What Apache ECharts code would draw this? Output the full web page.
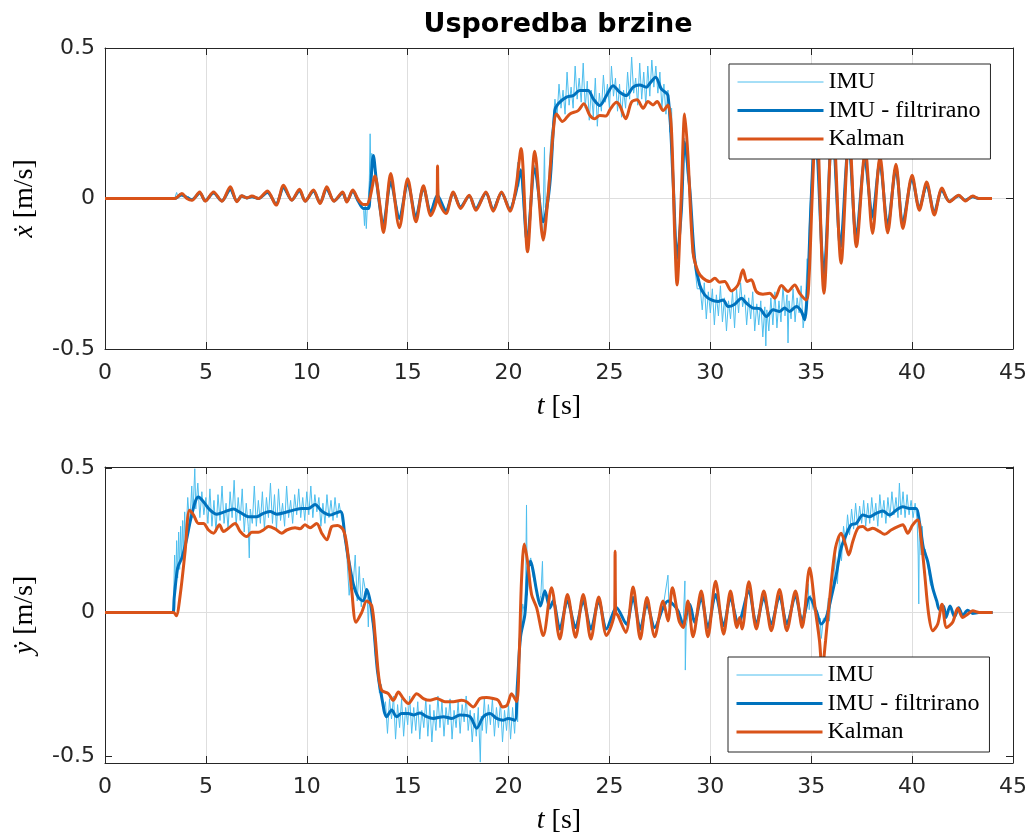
<!DOCTYPE html>
<html><head><meta charset="utf-8">
<script src="https://cdn.jsdelivr.net/npm/echarts@6/dist/echarts.min.js"></script>
<style>html,body{margin:0;padding:0;background:#fff}#c{width:1030px;height:836px}</style>
</head><body><div id="c"></div>
<script>
// ---------- DATA (time [s], value [m/s]) ----------
const legendNames = ['IMU', 'IMU - filtrirano', 'Kalman'];
const xTickValues = [0, 5, 10, 15, 20, 25, 30, 35, 40, 45];
const yTickValues = [-0.5, 0, 0.5];

// top plot: x-velocity
const xKalman = [[0,0],[3.45,0],[3.81,0.017],[4.06,0.0],[4.31,-0.006],[4.69,0.022],[4.97,-0.009],[5.38,0.022],[5.79,-0.009],[6.21,0.039],[6.54,-0.011],[6.78,0.009],[7.03,0.002],[7.28,0.008],[7.61,0.0],[8.05,0.025],[8.48,-0.022],[8.85,0.044],[9.26,-0.006],[9.64,0.031],[9.92,-0.009],[10.33,0.028],[10.66,-0.017],[10.99,0.039],[11.35,-0.009],[11.78,0.022],[11.98,-0.012],[12.28,0.028],[12.56,-0.005],[12.81,-0.02],[12.97,-0.02],[13.14,0.005],[13.38,0.075],[13.6,-0.011],[13.8,-0.113],[14.16,0.083],[14.59,-0.097],[15.0,0.066],[15.41,-0.077],[15.78,0.042],[16.14,-0.057],[16.46,0.006],[16.48,0.108],[16.52,0.0],[16.9,-0.05],[17.26,0.022],[17.62,-0.033],[18.05,0.011],[18.38,-0.039],[18.88,0.022],[19.24,-0.042],[19.65,0.022],[20.07,-0.042],[20.36,0.033],[20.62,0.166],[20.94,-0.177],[21.3,0.157],[21.72,-0.138],[21.96,0.01],[22.21,0.22],[22.38,0.281],[22.67,0.256],[23.04,0.281],[23.45,0.292],[23.73,0.315],[24.03,0.276],[24.27,0.265],[24.52,0.276],[24.82,0.274],[25.05,0.298],[25.35,0.32],[25.51,0.309],[25.81,0.265],[26.09,0.32],[26.37,0.328],[26.67,0.3],[26.91,0.322],[27.16,0.311],[27.36,0.322],[27.66,0.292],[27.9,0.311],[28.07,0.232],[28.23,-0.11],[28.35,-0.287],[28.56,0.01],[28.73,0.281],[28.89,0.143],[29.14,-0.177],[29.39,-0.243],[29.64,-0.265],[29.97,-0.276],[30.22,-0.265],[30.47,-0.278],[30.71,-0.276],[31.04,-0.307],[31.37,-0.287],[31.62,-0.237],[31.82,-0.276],[32.03,-0.27],[32.28,-0.309],[32.61,-0.318],[32.94,-0.315],[33.19,-0.331],[33.52,-0.289],[33.85,-0.309],[34.18,-0.287],[34.43,-0.315],[34.76,-0.337],[34.89,-0.265],[35.05,0.01],[35.25,0.3],[35.63,-0.315],[36.07,0.28],[36.48,-0.215],[36.88,0.22],[37.24,-0.16],[37.68,0.16],[38.04,-0.116],[38.41,0.14],[38.79,-0.114],[39.2,0.114],[39.54,-0.1],[40.0,0.077],[40.36,-0.039],[40.72,0.055],[41.1,-0.055],[41.48,0.035],[41.85,-0.011],[42.31,0.011],[42.64,-0.008],[43.0,0.008],[43.3,0.0],[43.96,0.0]];

const xFiltered = [[0,0],[3.45,0],[3.8,0.012],[4.1,0.002],[4.3,-0.004],[4.7,0.018],[4.97,-0.007],[5.38,0.018],[5.79,-0.008],[6.21,0.03],[6.54,-0.009],[6.78,0.008],[7.03,0.002],[7.28,0.006],[7.61,0.0],[8.05,0.02],[8.48,-0.018],[8.85,0.036],[9.26,-0.005],[9.64,0.026],[9.92,-0.008],[10.33,0.024],[10.66,-0.014],[10.99,0.032],[11.35,-0.008],[11.78,0.018],[11.98,-0.01],[12.28,0.024],[12.56,-0.01],[12.81,-0.033],[13.05,-0.033],[13.14,0.02],[13.3,0.143],[13.45,0.06],[13.8,-0.083],[14.16,0.055],[14.59,-0.066],[15.0,0.05],[15.41,-0.06],[15.78,0.035],[16.14,-0.045],[16.47,0.01],[16.9,-0.04],[17.26,0.018],[17.62,-0.028],[18.05,0.008],[18.38,-0.033],[18.88,0.018],[19.24,-0.035],[19.65,0.018],[20.07,-0.035],[20.36,0.02],[20.6,0.094],[20.92,-0.143],[21.3,0.099],[21.72,-0.077],[22.04,0.044],[22.29,0.292],[22.46,0.315],[22.87,0.337],[23.2,0.342],[23.53,0.359],[23.94,0.359],[24.2,0.331],[24.52,0.309],[24.85,0.342],[25.18,0.375],[25.51,0.353],[25.84,0.342],[26.17,0.37],[26.5,0.377],[26.83,0.37],[27.03,0.385],[27.29,0.403],[27.57,0.364],[27.9,0.342],[28.15,0.066],[28.35,-0.199],[28.56,-0.044],[28.73,0.188],[28.98,0.033],[29.22,-0.199],[29.47,-0.287],[29.72,-0.32],[30.05,-0.337],[30.38,-0.342],[30.63,-0.337],[30.88,-0.359],[31.21,-0.351],[31.54,-0.331],[31.79,-0.348],[32.12,-0.364],[32.45,-0.366],[32.78,-0.392],[33.11,-0.37],[33.44,-0.375],[33.68,-0.364],[33.93,-0.375],[34.26,-0.359],[34.51,-0.375],[34.67,-0.403],[34.84,-0.265],[35.0,0.0],[35.2,0.23],[35.63,-0.254],[36.05,0.24],[36.45,-0.16],[36.86,0.19],[37.23,-0.13],[37.66,0.13],[38.03,-0.06],[38.4,0.12],[38.79,-0.09],[39.2,0.1],[39.54,-0.08],[40.0,0.065],[40.36,-0.03],[40.72,0.045],[41.1,-0.045],[41.48,0.028],[41.85,-0.009],[42.31,0.009],[42.64,-0.006],[43.0,0.006],[43.3,0.0],[43.96,0.0]];

const xImu = [[0,0],[3.45,0],[3.55,0.02],[3.62,0.005],[3.7,0.018],[3.8,0.008],[3.9,0.015],[4.0,0.0],[4.15,0.006],[4.3,-0.008],[4.5,0.01],[4.7,0.02],[4.9,-0.01],[5.1,0.004],[5.38,0.02],[5.6,0.0],[5.79,-0.01],[6.0,0.012],[6.21,0.03],[6.4,0.0],[6.54,-0.012],[6.7,0.012],[6.85,0.002],[7.03,0.006],[7.28,0.004],[7.61,-0.003],[7.8,0.01],[8.05,0.022],[8.3,0.0],[8.48,-0.02],[8.7,0.02],[8.85,0.036],[9.05,0.01],[9.26,-0.008],[9.45,0.015],[9.64,0.028],[9.92,-0.01],[10.15,0.01],[10.33,0.026],[10.5,0.0],[10.66,-0.016],[10.85,0.018],[10.99,0.03],[11.2,0.0],[11.35,-0.01],[11.6,0.01],[11.78,0.02],[11.98,-0.012],[12.15,0.01],[12.28,0.026],[12.45,0.0],[12.56,-0.01],[12.7,-0.025],[12.82,-0.04],[12.86,-0.09],[12.9,-0.02],[12.95,-0.1],[13.0,-0.03],[13.05,0.0],[13.1,0.06],[13.14,0.215],[13.18,0.08],[13.22,0.15],[13.3,0.12],[13.4,0.09],[13.5,0.03],[13.62,-0.04],[13.8,-0.09],[14.0,-0.01],[14.16,0.06],[14.38,0.0],[14.59,-0.07],[14.8,-0.01],[15.0,0.055],[15.2,0.0],[15.41,-0.065],[15.6,-0.01],[15.78,0.04],[15.95,0.0],[16.14,-0.05],[16.3,-0.01],[16.47,0.02],[16.7,-0.02],[16.9,-0.045],[17.1,-0.01],[17.26,0.02],[17.45,0.0],[17.62,-0.03],[17.85,-0.01],[18.05,0.01],[18.2,-0.01],[18.38,-0.035],[18.6,0.0],[18.88,0.02],[19.05,-0.01],[19.24,-0.038],[19.45,0.0],[19.65,0.02],[19.85,-0.01],[20.07,-0.038],[20.25,0.0],[20.36,0.03],[20.45,0.12],[20.5,0.04],[20.6,0.1],[20.75,-0.05],[20.92,-0.15],[21.05,-0.05],[21.15,0.05],[21.3,0.11],[21.45,0.02],[21.6,-0.06],[21.7,-0.12],[21.78,0.17],[21.82,-0.03],[21.9,0.0],[22.0,0.08],[22.1,0.2],[22.2,0.25],[22.3,0.33],[22.4,0.27],[22.5,0.38],[22.6,0.30],[22.7,0.36],[22.8,0.28],[22.9,0.42],[23.0,0.31],[23.1,0.37],[23.2,0.30],[23.3,0.44],[23.4,0.33],[23.5,0.40],[23.6,0.32],[23.7,0.45],[23.8,0.30],[23.9,0.39],[24.0,0.26],[24.1,0.36],[24.2,0.27],[24.3,0.40],[24.4,0.24],[24.5,0.35],[24.6,0.29],[24.7,0.41],[24.8,0.32],[24.9,0.38],[25.0,0.30],[25.1,0.44],[25.2,0.34],[25.3,0.40],[25.4,0.29],[25.5,0.38],[25.6,0.27],[25.7,0.36],[25.8,0.30],[25.9,0.42],[26.0,0.33],[26.1,0.47],[26.2,0.35],[26.3,0.40],[26.4,0.31],[26.5,0.45],[26.6,0.33],[26.7,0.42],[26.8,0.31],[26.9,0.44],[27.0,0.34],[27.1,0.46],[27.2,0.37],[27.3,0.44],[27.4,0.35],[27.5,0.42],[27.6,0.30],[27.7,0.38],[27.8,0.28],[27.9,0.36],[28.0,0.22],[28.08,0.3],[28.15,0.05],[28.25,-0.1],[28.35,-0.22],[28.45,-0.12],[28.56,-0.04],[28.65,0.12],[28.73,0.2],[28.85,0.08],[28.98,0.02],[29.1,-0.18],[29.22,-0.22],[29.35,-0.3],[29.5,-0.3],[29.6,-0.37],[29.7,-0.28],[29.8,-0.40],[29.9,-0.31],[30.0,-0.38],[30.1,-0.30],[30.2,-0.42],[30.3,-0.32],[30.4,-0.39],[30.5,-0.29],[30.6,-0.41],[30.7,-0.33],[30.8,-0.44],[30.9,-0.34],[31.0,-0.40],[31.1,-0.31],[31.2,-0.43],[31.3,-0.30],[31.4,-0.38],[31.5,-0.28],[31.6,-0.36],[31.7,-0.32],[31.8,-0.42],[31.9,-0.33],[32.0,-0.40],[32.1,-0.31],[32.2,-0.44],[32.3,-0.35],[32.4,-0.42],[32.5,-0.34],[32.6,-0.46],[32.7,-0.36],[32.75,-0.49],[32.8,-0.37],[32.9,-0.44],[33.0,-0.33],[33.1,-0.42],[33.2,-0.31],[33.3,-0.43],[33.4,-0.34],[33.5,-0.41],[33.6,-0.29],[33.7,-0.39],[33.8,-0.32],[33.85,-0.48],[33.9,-0.34],[34.0,-0.40],[34.1,-0.30],[34.2,-0.41],[34.3,-0.33],[34.4,-0.38],[34.5,-0.29],[34.6,-0.43],[34.7,-0.37],[34.8,-0.2],[34.85,-0.33],[34.9,-0.1],[35.0,0.05],[35.2,0.25],[35.4,0.0],[35.63,-0.26],[35.85,0.0],[36.05,0.25],[36.25,0.0],[36.45,-0.17],[36.65,0.0],[36.86,0.2],[37.05,0.0],[37.23,-0.135],[37.45,0.0],[37.66,0.14],[37.85,0.0],[38.03,-0.07],[38.2,0.0],[38.4,0.125],[38.6,0.0],[38.79,-0.095],[39.0,0.0],[39.2,0.105],[39.35,0.0],[39.54,-0.085],[39.75,0.0],[40.0,0.068],[40.2,0.0],[40.36,-0.032],[40.55,0.0],[40.72,0.047],[40.9,0.0],[41.1,-0.047],[41.3,0.0],[41.48,0.03],[41.65,0.0],[41.85,-0.01],[42.31,0.01],[42.64,-0.006],[43.0,0.006],[43.3,0.0],[43.96,0.0]];

// bottom plot: y-velocity
const yKalman = [[0,0],[3.4,0],[3.53,-0.011],[3.73,0.063],[3.97,0.213],[4.19,0.356],[4.39,0.339],[4.63,0.31],[4.88,0.31],[5.13,0.287],[5.38,0.276],[5.67,0.305],[5.87,0.282],[6.12,0.293],[6.45,0.31],[6.7,0.282],[7.03,0.264],[7.27,0.279],[7.6,0.279],[7.85,0.287],[8.1,0.299],[8.43,0.291],[8.76,0.276],[9.01,0.287],[9.42,0.295],[9.67,0.291],[9.91,0.305],[10.16,0.295],[10.49,0.31],[10.74,0.276],[10.99,0.253],[11.24,0.299],[11.52,0.303],[11.81,0.287],[11.98,0.236],[12.23,0.075],[12.44,-0.034],[12.72,0.0],[12.97,0.04],[13.22,0.023],[13.38,-0.075],[13.55,-0.213],[13.71,-0.27],[14.04,-0.282],[14.29,-0.305],[14.54,-0.276],[14.78,-0.299],[15.03,-0.316],[15.45,-0.282],[15.78,-0.299],[16.11,-0.305],[16.44,-0.299],[16.85,-0.31],[17.26,-0.31],[17.67,-0.305],[17.92,-0.31],[18.25,-0.328],[18.58,-0.299],[18.91,-0.295],[19.24,-0.299],[19.49,-0.305],[19.7,-0.328],[19.93,-0.322],[20.15,-0.282],[20.4,-0.31],[20.53,-0.144],[20.64,0.109],[20.78,0.238],[20.94,0.178],[21.14,0.063],[21.39,0.017],[21.72,-0.08],[22.13,0.086],[22.54,-0.092],[22.92,0.063],[23.32,-0.086],[23.7,0.063],[24.08,-0.092],[24.47,0.054],[24.85,-0.08],[25.26,0.006],[25.28,0.213],[25.31,0.0],[25.43,-0.011],[25.81,-0.069],[26.17,0.089],[26.53,-0.092],[26.86,0.052],[27.24,-0.084],[27.66,0.04],[27.9,-0.029],[28.12,0.086],[28.45,-0.029],[28.65,-0.052],[28.89,0.04],[29.14,-0.084],[29.55,0.075],[29.88,-0.084],[30.26,0.109],[30.66,-0.075],[31.0,0.075],[31.32,-0.052],[31.45,-0.017],[31.57,-0.057],[31.91,0.107],[32.28,-0.057],[32.65,0.075],[33.02,-0.063],[33.43,0.08],[33.79,-0.063],[34.22,0.075],[34.55,-0.052],[34.92,0.155],[35.21,0.006],[35.41,-0.098],[35.54,-0.2],[35.71,-0.098],[35.9,0.04],[36.2,0.224],[36.48,0.276],[36.7,0.236],[36.86,0.2],[37.06,0.247],[37.31,0.293],[37.56,0.299],[37.8,0.287],[38.05,0.293],[38.38,0.282],[38.63,0.272],[38.96,0.287],[39.29,0.299],[39.54,0.305],[39.78,0.276],[40.03,0.305],[40.28,0.322],[40.44,0.259],[40.61,0.144],[40.82,-0.006],[41.02,-0.063],[41.27,-0.04],[41.48,0.029],[41.71,-0.052],[42.01,-0.034],[42.26,0.015],[42.51,-0.017],[42.75,-0.006],[43.0,0.006],[43.33,0.0],[43.99,0.0]];

const yFiltered = [[0,0],[3.36,0],[3.43,0.052],[3.6,0.155],[3.81,0.19],[4.02,0.247],[4.22,0.316],[4.47,0.385],[4.63,0.402],[4.88,0.385],[5.21,0.356],[5.54,0.342],[5.95,0.351],[6.37,0.36],[6.7,0.348],[7.11,0.333],[7.52,0.333],[7.85,0.345],[8.18,0.351],[8.51,0.342],[8.92,0.348],[9.34,0.356],[9.75,0.362],[10.08,0.362],[10.41,0.376],[10.74,0.353],[11.15,0.339],[11.4,0.345],[11.68,0.351],[11.9,0.259],[12.06,0.19],[12.31,0.098],[12.56,0.052],[12.8,0.04],[12.97,0.08],[13.17,0.029],[13.33,-0.063],[13.5,-0.201],[13.71,-0.293],[13.96,-0.362],[14.21,-0.339],[14.45,-0.362],[14.7,-0.351],[15.03,-0.351],[15.3,-0.356],[15.61,-0.349],[15.94,-0.362],[16.27,-0.368],[16.77,-0.362],[17.18,-0.368],[17.59,-0.356],[18.09,-0.362],[18.42,-0.402],[18.75,-0.362],[19.08,-0.351],[19.41,-0.368],[19.74,-0.374],[19.98,-0.368],[20.31,-0.374],[20.43,-0.259],[20.59,-0.086],[20.81,-0.006],[20.97,0.155],[21.09,0.178],[21.22,0.144],[21.39,0.075],[21.58,0.023],[21.8,0.075],[22.05,0.017],[22.21,0.04],[22.54,-0.057],[22.92,0.04],[23.32,-0.052],[23.7,0.04],[24.08,-0.057],[24.47,0.04],[24.85,-0.057],[25.35,0.017],[25.84,-0.04],[26.17,0.052],[26.53,-0.057],[26.86,0.029],[27.24,-0.052],[27.66,0.017],[27.9,0.04],[28.15,0.029],[28.4,0.006],[28.65,-0.04],[28.98,0.029],[29.22,-0.034],[29.55,0.052],[29.88,-0.052],[30.26,0.063],[30.66,-0.046],[31.0,0.052],[31.37,-0.034],[31.5,-0.023],[31.91,0.075],[32.28,-0.04],[32.65,0.052],[33.02,-0.04],[33.43,0.057],[33.79,-0.04],[34.22,0.057],[34.55,-0.029],[34.92,0.052],[35.25,0.006],[35.49,-0.04],[35.74,-0.017],[35.99,0.052],[36.24,0.132],[36.48,0.224],[36.73,0.27],[36.98,0.305],[37.23,0.31],[37.56,0.339],[37.89,0.333],[38.22,0.345],[38.55,0.353],[38.88,0.339],[39.21,0.356],[39.54,0.368],[39.87,0.362],[40.2,0.362],[40.36,0.316],[40.56,0.224],[40.77,0.178],[41.02,0.086],[41.22,0.04],[41.35,0.011],[41.55,0.023],[41.68,-0.017],[41.88,0.023],[42.1,-0.015],[42.31,0.017],[42.51,-0.011],[42.75,0.008],[43.0,-0.003],[43.3,0.0],[43.99,0.0]];

const yImu = [[0,0],[3.36,0],[3.4,0.05],[3.45,0.2],[3.5,0.08],[3.55,0.25],[3.6,0.12],[3.65,0.28],[3.7,0.15],[3.75,0.3],[3.8,0.18],[3.85,0.32],[3.9,0.2],[3.95,0.35],[4.0,0.24],[4.1,0.4],[4.2,0.3],[4.3,0.44],[4.35,0.33],[4.45,0.5],[4.5,0.36],[4.6,0.45],[4.7,0.33],[4.8,0.42],[4.9,0.34],[5.0,0.40],[5.1,0.31],[5.2,0.43],[5.3,0.30],[5.4,0.39],[5.5,0.28],[5.6,0.41],[5.7,0.32],[5.8,0.44],[5.9,0.31],[6.0,0.38],[6.1,0.29],[6.2,0.42],[6.3,0.33],[6.4,0.46],[6.5,0.30],[6.6,0.40],[6.7,0.32],[6.8,0.43],[6.9,0.28],[7.0,0.38],[7.1,0.30],[7.15,0.19],[7.2,0.36],[7.3,0.31],[7.4,0.44],[7.5,0.30],[7.6,0.39],[7.7,0.31],[7.8,0.42],[7.9,0.29],[8.0,0.40],[8.1,0.33],[8.2,0.45],[8.3,0.31],[8.4,0.41],[8.5,0.29],[8.6,0.43],[8.7,0.32],[8.8,0.38],[8.9,0.30],[9.0,0.44],[9.1,0.33],[9.2,0.39],[9.3,0.31],[9.4,0.41],[9.5,0.34],[9.6,0.43],[9.7,0.33],[9.8,0.40],[9.9,0.32],[10.0,0.42],[10.1,0.34],[10.2,0.44],[10.3,0.33],[10.4,0.41],[10.5,0.35],[10.6,0.40],[10.7,0.30],[10.8,0.38],[10.9,0.31],[11.0,0.41],[11.1,0.33],[11.2,0.39],[11.3,0.32],[11.4,0.40],[11.5,0.33],[11.6,0.38],[11.7,0.34],[11.8,0.30],[11.9,0.25],[12.0,0.18],[12.1,0.06],[12.2,0.14],[12.3,0.1],[12.4,0.2],[12.5,0.04],[12.6,0.16],[12.7,0.02],[12.8,0.12],[12.9,0.08],[13.0,0.05],[13.05,-0.05],[13.1,0.06],[13.2,-0.02],[13.3,-0.05],[13.4,-0.15],[13.5,-0.2],[13.6,-0.28],[13.7,-0.25],[13.8,-0.35],[13.9,-0.31],[14.0,-0.42],[14.1,-0.3],[14.2,-0.37],[14.3,-0.29],[14.4,-0.44],[14.5,-0.32],[14.6,-0.40],[14.7,-0.30],[14.8,-0.43],[14.9,-0.33],[15.0,-0.39],[15.1,-0.29],[15.2,-0.42],[15.3,-0.33],[15.4,-0.41],[15.5,-0.31],[15.6,-0.44],[15.7,-0.34],[15.8,-0.40],[15.9,-0.30],[16.0,-0.43],[16.1,-0.32],[16.2,-0.45],[16.3,-0.34],[16.4,-0.41],[16.5,-0.29],[16.6,-0.40],[16.7,-0.31],[16.8,-0.43],[16.9,-0.33],[17.0,-0.39],[17.1,-0.30],[17.2,-0.44],[17.3,-0.34],[17.4,-0.40],[17.5,-0.31],[17.6,-0.42],[17.7,-0.32],[17.8,-0.38],[17.9,-0.29],[18.0,-0.41],[18.1,-0.34],[18.2,-0.45],[18.3,-0.35],[18.4,-0.43],[18.5,-0.33],[18.6,-0.52],[18.65,-0.36],[18.7,-0.41],[18.8,-0.30],[18.9,-0.42],[19.0,-0.32],[19.1,-0.39],[19.2,-0.30],[19.3,-0.43],[19.4,-0.33],[19.5,-0.40],[19.6,-0.31],[19.7,-0.45],[19.8,-0.34],[19.9,-0.41],[20.0,-0.32],[20.1,-0.44],[20.2,-0.33],[20.3,-0.42],[20.4,-0.28],[20.45,-0.38],[20.5,-0.18],[20.55,-0.05],[20.6,-0.1],[20.7,0.03],[20.8,0.0],[20.85,0.12],[20.89,0.374],[20.93,0.06],[21.0,0.17],[21.1,0.19],[21.2,0.13],[21.3,0.1],[21.4,0.07],[21.5,0.03],[21.6,0.06],[21.68,0.178],[21.72,0.05],[21.8,0.08],[22.05,0.01],[22.21,0.05],[22.54,-0.06],[22.92,0.04],[23.32,-0.05],[23.7,0.045],[24.08,-0.06],[24.47,0.04],[24.85,-0.06],[25.35,0.02],[25.84,-0.045],[26.17,0.055],[26.53,-0.06],[26.86,0.03],[27.24,-0.055],[27.66,0.02],[27.9,0.13],[27.95,0.02],[28.15,0.03],[28.4,0.0],[28.65,-0.04],[28.74,0.11],[28.76,-0.2],[28.8,-0.05],[28.98,0.03],[29.22,-0.035],[29.55,0.055],[29.88,-0.055],[30.26,0.065],[30.66,-0.05],[31.0,0.055],[31.37,-0.035],[31.5,-0.02],[31.91,0.08],[32.28,-0.04],[32.65,0.055],[33.02,-0.04],[33.43,0.06],[33.79,-0.04],[34.22,0.06],[34.55,-0.03],[34.85,0.1],[34.9,0.01],[34.95,0.06],[35.1,0.01],[35.25,0.0],[35.35,-0.04],[35.42,-0.1],[35.45,-0.02],[35.5,-0.09],[35.6,-0.02],[35.74,-0.02],[35.85,0.05],[35.9,-0.03],[35.99,0.06],[36.1,0.1],[36.2,0.2],[36.3,0.1],[36.4,0.26],[36.5,0.18],[36.6,0.3],[36.7,0.24],[36.8,0.34],[36.9,0.27],[37.0,0.36],[37.1,0.29],[37.2,0.38],[37.3,0.30],[37.4,0.37],[37.5,0.31],[37.6,0.39],[37.7,0.30],[37.8,0.38],[37.9,0.31],[38.0,0.40],[38.1,0.32],[38.2,0.38],[38.3,0.30],[38.4,0.41],[38.5,0.33],[38.6,0.39],[38.7,0.31],[38.8,0.40],[38.9,0.33],[39.0,0.42],[39.1,0.34],[39.2,0.40],[39.3,0.33],[39.37,0.45],[39.45,0.34],[39.55,0.42],[39.65,0.33],[39.75,0.41],[39.85,0.34],[39.95,0.39],[40.05,0.33],[40.15,0.38],[40.25,0.32],[40.3,0.2],[40.33,0.03],[40.36,0.3],[40.45,0.2],[40.5,0.3],[40.56,0.2],[40.65,0.22],[40.77,0.17],[40.9,0.1],[41.02,0.08],[41.22,0.04],[41.35,0.01],[41.55,0.025],[41.68,-0.02],[41.88,0.025],[42.1,-0.015],[42.31,0.017],[42.51,-0.011],[42.75,0.008],[43.0,-0.003],[43.3,0.0],[43.99,0.0]];

// ---------- STYLE ----------
const AX = '#262626';
const GRIDC = '#dedede';
const SANS = '"DejaVu Sans", sans-serif';
const SERIF = '"Liberation Serif", "DejaVu Serif", serif';
const C_IMU = '#4DBEEE', C_FILT = '#0072BD', C_KAL = '#D95319';
const TICK_FS = 22, NAME_FS = 28, LEG_FS = 24;

function nameStyle() {
  return { fontFamily: SERIF, fontSize: NAME_FS, color: '#000',
    rich: { i: { fontFamily: SERIF, fontStyle: 'italic', fontSize: NAME_FS, color: '#000' } } };
}
function xAxisPair(gi) {
  const base = { gridIndex: gi, type: 'value', min: 0, max: 45, interval: 5 };
  return [
    Object.assign({}, base, {
      position: 'bottom',
      axisLine: { show: true, onZero: false, lineStyle: { color: AX, width: 1 } },
      axisTick: { show: true, inside: true, length: 7, lineStyle: { color: AX } },
      axisLabel: { color: AX, fontFamily: SANS, fontSize: TICK_FS, margin: 13 },
      splitLine: { show: true, lineStyle: { color: GRIDC, width: 1 } },
      name: '{i|t} [s]', nameLocation: 'middle', nameGap: 44,
      nameTextStyle: nameStyle()
    }),
    Object.assign({}, base, {
      position: 'top',
      axisLine: { show: true, onZero: false, lineStyle: { color: AX, width: 1 } },
      axisTick: { show: true, inside: true, length: 7, lineStyle: { color: AX } },
      axisLabel: { show: false }, splitLine: { show: false }
    })
  ];
}
function yAxisPair(gi, min, max, symbol) {
  const base = { gridIndex: gi, type: 'value', min: min, max: max };
  const custom = (gi === 1);
  const left = Object.assign({}, base, {
    position: 'left',
    axisLine: { show: true, onZero: false, lineStyle: { color: AX, width: 1 } },
    axisTick: { show: true, inside: true, length: 7, lineStyle: { color: AX } },
    axisLabel: { color: AX, fontFamily: SANS, fontSize: TICK_FS, margin: 10 },
    splitLine: { show: !custom, lineStyle: { color: GRIDC, width: 1 } },
    name: '{i|' + symbol + '} [m/s]', nameLocation: 'middle', nameGap: 66, nameRotate: 90,
    nameTextStyle: nameStyle()
  });
  const right = Object.assign({}, base, {
    position: 'right',
    axisLine: { show: true, onZero: false, lineStyle: { color: AX, width: 1 } },
    axisTick: { show: true, inside: true, length: 7, lineStyle: { color: AX } },
    axisLabel: { show: false }, splitLine: { show: false }
  });
  if (custom) {
    left.axisLabel.customValues = yTickValues;
    left.axisTick.customValues = yTickValues;
    right.axisTick.customValues = yTickValues;
  } else {
    left.interval = 0.5; right.interval = 0.5;
  }
  return [left, right];
}

function seriesTriple(xi, yi, imu, filt, kal) {
  return [
    { name: legendNames[0], type: 'line', xAxisIndex: xi, yAxisIndex: yi, data: imu,
      symbol: 'none', showSymbol: false, lineStyle: { color: C_IMU, width: 1 }, itemStyle: { color: C_IMU }, z: 2 },
    { name: legendNames[1], type: 'line', xAxisIndex: xi, yAxisIndex: yi, data: filt, smooth: 0.3,
      symbol: 'none', showSymbol: false, lineStyle: { color: C_FILT, width: 3 }, itemStyle: { color: C_FILT }, z: 3 },
    { name: legendNames[2], type: 'line', xAxisIndex: xi, yAxisIndex: yi, data: kal, smooth: 0.3,
      symbol: 'none', showSymbol: false, lineStyle: { color: C_KAL, width: 3 }, itemStyle: { color: C_KAL }, z: 4 }
  ];
}

function legendAt(left, top) {
  return {
    data: [
      { name: legendNames[0], lineStyle: { width: 1, color: C_IMU } },
      { name: legendNames[1], lineStyle: { width: 3, color: C_FILT } },
      { name: legendNames[2], lineStyle: { width: 3, color: C_KAL } }
    ],
    orient: 'vertical', left: left, top: top,
    padding: [6, 10, 8, 7], itemWidth: 86, itemHeight: 14, itemGap: 4.5,
    backgroundColor: '#fff', borderColor: AX, borderWidth: 1, borderRadius: 0,
    selectedMode: false,
    itemStyle: { opacity: 0 },
    textStyle: { fontFamily: SERIF, fontSize: LEG_FS, color: '#000', lineHeight: 24 },
    z: 10
  };
}

const xa = xAxisPair(0).concat(xAxisPair(1));
const ya = yAxisPair(0, -0.5, 0.5, 'ẋ').concat(yAxisPair(1, -0.523, 0.506, 'ẏ'));

const series = []
  .concat(seriesTriple(0, 0, xImu, xFiltered, xKalman))
  .concat(seriesTriple(2, 2, yImu, yFiltered, yKalman));
// horizontal grid line at 0 for the lower plot (drawn beneath the data lines)
series.push({ name: 'grid0', type: 'line', xAxisIndex: 2, yAxisIndex: 2, data: [], silent: true, z: 1,
  markLine: { silent: true, z: 1, symbol: 'none', label: { show: false },
    lineStyle: { color: GRIDC, width: 1, type: 'solid' }, data: [{ yAxis: 0 }] } });

const chart = echarts.init(document.getElementById('c'), null, { renderer: 'canvas' });
chart.setOption({
  animation: false,
  backgroundColor: '#fff',
  grid: [
    { left: 105, top: 48, width: 909, height: 301 },
    { left: 105, top: 467, width: 909, height: 298 }
  ],
  xAxis: xa,
  yAxis: ya,
  legend: [legendAt(729, 64), legendAt(728, 657)],
  graphic: [{ type: 'text', x: 558, y: 25,
    style: { text: 'Usporedba brzine', font: 'bold 27px "DejaVu Sans", sans-serif', fill: '#000',
      textAlign: 'center', textVerticalAlign: 'middle' } }],
  series: series
});
</script>
</body></html>
